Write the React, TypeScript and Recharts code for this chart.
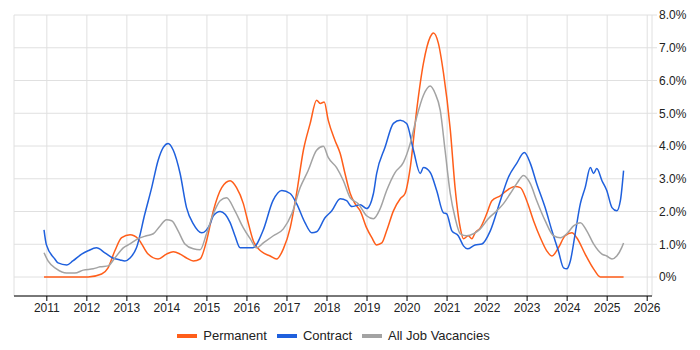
import * as React from "react"
import { LineChart, Line, XAxis, YAxis, CartesianGrid, Legend } from "recharts"

const yearTicks = [2011, 2012, 2013, 2014, 2015, 2016, 2017, 2018, 2019, 2020, 2021, 2022, 2023, 2024, 2025, 2026]
const pctTicks = [0, 1, 2, 3, 4, 5, 6, 7, 8]

const permYears = [
  2010.93, 2011.5, 2012.03, 2012.37, 2012.53, 2012.7, 2012.87, 2013.08, 2013.28, 2013.53, 2013.78, 2013.99,
  2014.16, 2014.33, 2014.49, 2014.66, 2014.83, 2014.99, 2015.16, 2015.37, 2015.58, 2015.74, 2015.91, 2016.0,
  2016.16, 2016.37, 2016.58, 2016.74, 2016.91, 2017.08, 2017.24, 2017.41, 2017.58, 2017.74, 2017.83, 2017.93,
  2018.03, 2018.2, 2018.33, 2018.45, 2018.58, 2018.7, 2018.83, 2018.99, 2019.12, 2019.24, 2019.37, 2019.49,
  2019.66, 2019.83, 2019.95, 2020.08, 2020.24, 2020.41, 2020.58, 2020.66, 2020.78, 2020.91, 2021.08, 2021.2,
  2021.33, 2021.41, 2021.53, 2021.62, 2021.7, 2021.83, 2021.99, 2022.12, 2022.33, 2022.49, 2022.7, 2022.83,
  2022.99, 2023.16, 2023.33, 2023.49, 2023.62, 2023.78, 2023.95, 2024.12, 2024.24, 2024.45, 2024.66, 2024.83,
  2025.1, 2025.41,
]
const permValues = [
  0, 0, 0, 0.09, 0.28, 0.8, 1.2, 1.29, 1.17, 0.7, 0.55, 0.7,
  0.77, 0.7, 0.58, 0.49, 0.55, 1.1, 2.02, 2.73, 2.94, 2.73, 2.24, 1.81,
  1.1, 0.77, 0.64, 0.55, 0.86, 1.5, 2.55, 3.87, 4.69, 5.4, 5.3, 5.34,
  4.79, 4.17, 3.77, 3.16, 2.55, 2.24, 2.02, 1.5, 1.2, 0.98, 1.04, 1.41,
  2.02, 2.39, 2.55, 3.34, 5.09, 6.53, 7.33, 7.45, 7.15, 6.23, 4.5, 2.73,
  1.5, 1.17, 1.26, 1.17, 1.35, 1.5, 1.93, 2.33, 2.48, 2.64, 2.76, 2.73,
  2.33, 1.72, 1.2, 0.8, 0.64, 0.89, 1.26, 1.35, 1.2, 0.7, 0.25, 0,
  0, 0,
]

const contractYears = [
  2010.93, 2010.99, 2011.2, 2011.28, 2011.5, 2011.65, 2011.87, 2012.03, 2012.24, 2012.45, 2012.65, 2012.83,
  2012.95, 2013.08, 2013.24, 2013.45, 2013.62, 2013.78, 2013.91, 2014.03, 2014.16, 2014.33, 2014.49, 2014.66,
  2014.87, 2015.08, 2015.16, 2015.33, 2015.58, 2015.7, 2015.83, 2016.15, 2016.4, 2016.65, 2016.87, 2017.08,
  2017.24, 2017.45, 2017.62, 2017.74, 2017.95, 2018.12, 2018.33, 2018.49, 2018.62, 2018.83, 2018.99, 2019.16,
  2019.24, 2019.45, 2019.66, 2019.83, 2019.99, 2020.16, 2020.33, 2020.41, 2020.58, 2020.74, 2020.91, 2020.99,
  2021.12, 2021.28, 2021.41, 2021.51, 2021.7, 2021.87, 2022.08, 2022.33, 2022.53, 2022.74, 2022.93, 2023.08,
  2023.24, 2023.45, 2023.62, 2023.78, 2023.91, 2023.99, 2024.08, 2024.2, 2024.33, 2024.45, 2024.58, 2024.66,
  2024.74, 2024.87, 2024.99, 2025.12, 2025.24, 2025.33, 2025.41,
]
const contractValues = [
  1.44, 0.98, 0.55, 0.43, 0.37, 0.49, 0.7, 0.8, 0.89, 0.74, 0.58, 0.52,
  0.49, 0.58, 0.89, 1.93, 2.73, 3.56, 3.96, 4.08, 3.87, 3.16, 2.12, 1.62,
  1.35, 1.62, 1.87, 2.0, 1.66, 1.26, 0.89, 0.89, 1.41, 2.33, 2.64, 2.55,
  2.24, 1.66, 1.35, 1.38, 1.81, 2.02, 2.39, 2.33, 2.15, 2.21, 2.09, 2.55,
  3.16, 3.96, 4.69, 4.79, 4.69, 3.87, 3.16, 3.34, 3.19, 2.64, 1.96, 1.93,
  1.41, 1.26, 0.95, 0.86, 0.98, 1.01, 1.41, 2.33, 3.04, 3.47, 3.8, 3.47,
  2.85, 2.12, 1.41, 0.8, 0.28, 0.25, 0.49, 1.32, 2.24, 2.73, 3.34, 3.16,
  3.31, 2.94, 2.64, 2.12, 2.02, 2.33, 3.25,
]

const allYears = [
  2010.93, 2011.03, 2011.24, 2011.49, 2011.7, 2011.91, 2012.16, 2012.33, 2012.53, 2012.7, 2012.91, 2013.08,
  2013.28, 2013.49, 2013.66, 2013.83, 2013.99, 2014.12, 2014.28, 2014.45, 2014.66, 2014.83, 2014.99, 2015.16,
  2015.33, 2015.49, 2015.7, 2015.91, 2016.08, 2016.24, 2016.41, 2016.66, 2016.91, 2017.12, 2017.33, 2017.53,
  2017.74, 2017.91, 2018.03, 2018.24, 2018.41, 2018.58, 2018.78, 2018.99, 2019.16, 2019.33, 2019.49, 2019.7,
  2019.91, 2020.08, 2020.24, 2020.41, 2020.58, 2020.7, 2020.83, 2020.95, 2021.08, 2021.2, 2021.33, 2021.49,
  2021.66, 2021.83, 2022.03, 2022.24, 2022.41, 2022.58, 2022.74, 2022.91, 2023.08, 2023.24, 2023.45, 2023.66,
  2023.83, 2023.99, 2024.16, 2024.33, 2024.49, 2024.66, 2024.87, 2024.99, 2025.12, 2025.24, 2025.36, 2025.41,
]
const allValues = [
  0.74, 0.49, 0.25, 0.12, 0.12, 0.21, 0.25, 0.31, 0.34, 0.58, 0.89, 1.01,
  1.17, 1.26, 1.32, 1.56, 1.75, 1.72, 1.41, 1.01, 0.86, 0.83, 1.32, 1.93,
  2.33, 2.42, 2.02, 1.5, 1.17, 0.89, 1.04, 1.26, 1.47, 1.93, 2.73, 3.25,
  3.87, 3.99, 3.65, 3.34, 2.94, 2.42, 2.24, 1.87, 1.78, 2.09, 2.64, 3.19,
  3.5, 4.08, 4.88, 5.55, 5.83, 5.61, 5.09, 3.87, 2.55, 1.81, 1.32, 1.26,
  1.32, 1.47, 1.78, 2.02, 2.24, 2.55, 2.85, 3.1, 2.85, 2.33, 1.72, 1.26,
  1.2, 1.32, 1.56, 1.66, 1.41, 1.01, 0.7, 0.64, 0.55, 0.64, 0.89, 1.04,
]

const toPoints = (xs: number[], ys: number[]) => xs.map((x, i) => ({ year: x, value: ys[i] }))

const series = [
  { name: "Permanent", color: "#ff5e1a", data: toPoints(permYears, permValues) },
  { name: "Contract", color: "#1f60dd", data: toPoints(contractYears, contractValues) },
  { name: "All Job Vacancies", color: "#a3a3a3", data: toPoints(allYears, allValues) },
]

const fmtPct = (v: number) => (v === 0 ? "0%" : v.toFixed(1) + "%")

const font = "Arial, 'Liberation Sans', sans-serif"

function LegendBox() {
  return (
    <div style={{ display: "flex", justifyContent: "center", gap: 10, fontFamily: font, fontSize: 13, color: "#222" }}>
      {series.map((s) => (
        <div key={s.name} style={{ display: "flex", alignItems: "center" }}>
          <span style={{ display: "inline-block", width: 20, height: 4, background: s.color, marginRight: 6 }} />
          <span>{s.name}</span>
        </div>
      ))}
    </div>
  )
}

export default function App() {
  return (
    <div style={{ position: "absolute", left: 0, top: 0, width: 700, height: 350, background: "#fff" }}>
      <LineChart width={700} height={350} margin={{ top: 15, right: 0, left: 14, bottom: 8 }}>
        <CartesianGrid stroke="#e0e0e0" />
        <XAxis
          type="number"
          dataKey="year"
          domain={[2010.18, 2026.12]}
          ticks={yearTicks}
          allowDataOverflow
          stroke="#000"
          tickSize={5}
          tick={{ fill: "#222", fontSize: 12, fontFamily: font }}
          height={24}
        />
        <YAxis
          orientation="right"
          type="number"
          domain={[-0.58, 8]}
          ticks={pctTicks}
          allowDataOverflow
          tickFormatter={fmtPct}
          axisLine={false}
          tickLine={{ stroke: "#e0e0e0" }}
          tickSize={5}
          width={48}
          tick={{ fill: "#222", fontSize: 12, fontFamily: font }}
        />
        <Legend
          verticalAlign="bottom"
          height={22}
          wrapperStyle={{ bottom: 0, left: 0, width: 667 }}
          content={() => <LegendBox />}
        />
        {series.map((s) => (
          <Line
            key={s.name}
            data={s.data}
            dataKey="value"
            name={s.name}
            type="monotone"
            stroke={s.color}
            strokeWidth={1.5}
            dot={false}
            isAnimationActive={false}
          />
        ))}
      </LineChart>
    </div>
  )
}
